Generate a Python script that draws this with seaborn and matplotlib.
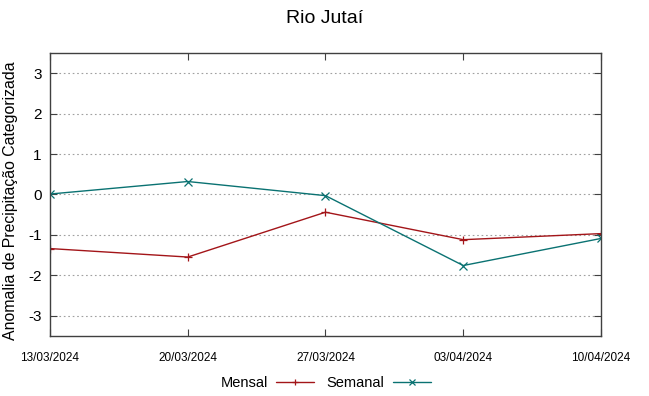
import pandas as pd
import matplotlib
matplotlib.use("Agg")
import matplotlib.pyplot as plt
import seaborn as sns

# Data
dates = ["13/03/2024", "20/03/2024", "27/03/2024", "03/04/2024", "10/04/2024"]
mensal = [-1.34, -1.55, -0.44, -1.12, -0.97]
semanal = [0.01, 0.32, -0.03, -1.76, -1.09]
series_names = ["Mensal", "Semanal"]
series_colors = ["#a31519", "#0a7272"]
series_markers = ["+", "x"]

sns.set_style("white")
plt.rcParams["font.family"] = ["Liberation Sans", "DejaVu Sans"]
plt.rcParams["text.color"] = "black"
plt.rcParams["axes.labelcolor"] = "black"
plt.rcParams["xtick.color"] = "black"
plt.rcParams["ytick.color"] = "black"

x = pd.to_datetime(dates, format="%d/%m/%Y")
df = pd.concat([
    pd.DataFrame({"data": x, "valor": mensal, "serie": "Mensal"}),
    pd.DataFrame({"data": x, "valor": semanal, "serie": "Semanal"}),
])

fig = plt.figure(figsize=(6.49, 3.96), dpi=100)
ax = fig.add_axes([0.077, 0.152, 0.849, 0.714])

for name, color, marker in zip(series_names, series_colors, series_markers):
    sub = df[df["serie"] == name]
    sns.lineplot(data=sub, x="data", y="valor", ax=ax, color=color,
                 marker=marker, markersize=5.5, markeredgewidth=0.9,
                 markeredgecolor=color, linewidth=1.0, label=name)

ax.set_xlim(x[0], x[-1])
ax.set_ylim(-3.5, 3.5)
ax.set_xticks(x)
ax.set_xticklabels(dates, fontsize=8.5)
ax.set_yticks([-3, -2, -1, 0, 1, 2, 3])
ax.set_yticklabels(["-3", "-2", "-1", "0", "1", "2", "3"], fontsize=11)
ax.set_xlabel("")
ax.set_ylabel("Anomalia de Precipitação Categorizada", fontsize=11.4)
ax.yaxis.set_label_coords(-0.058, 0.477)

ax.grid(axis="y", color="#a0a0a0", linestyle=(0, (1.5, 2.5)), linewidth=0.8)
ax.grid(axis="x", visible=False)
ax.tick_params(axis="both", direction="in", length=5, color="#404040",
               top=True, right=True, bottom=True, left=True)
ax.tick_params(axis="x", pad=12)
ax.tick_params(axis="y", pad=6)
for s in ax.spines.values():
    s.set_color("#404040")
    s.set_linewidth(1.0)

fig.suptitle("Rio Jutaí", fontsize=14, y=0.975)

ax.legend(loc="upper center", bbox_to_anchor=(0.5, -0.095), ncol=2,
          frameon=False, markerfirst=False, fontsize=10.5, handlelength=2.6,
          columnspacing=0.8, handletextpad=0.6, markerscale=0.8)

fig.savefig("out.png", dpi=100)
